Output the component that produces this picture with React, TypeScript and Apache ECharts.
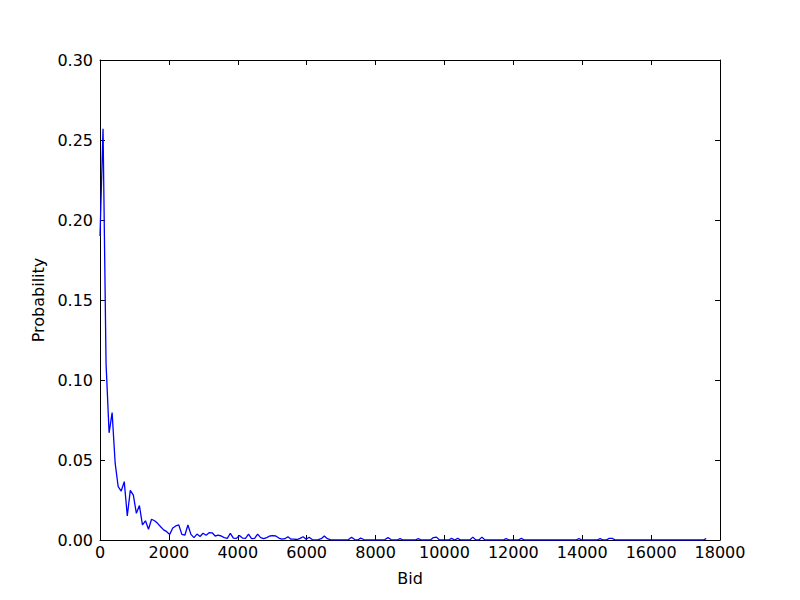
import React, { useEffect, useRef } from "react";
import * as echarts from "echarts";

const binWidth = 88;
const probability: number[] = [
  0.19, 0.257, 0.11, 0.067, 0.0796, 0.048, 0.0333, 0.0306, 0.0365, 0.015,
  0.031, 0.028, 0.0167, 0.0215, 0.0094, 0.012, 0.0067, 0.013, 0.012, 0.0104,
  0.0083, 0.0063, 0.0052, 0.0035, 0.0075, 0.0088, 0.0094, 0.0035, 0.003, 0.0094,
  0.0035, 0.0015, 0.0037, 0.0022, 0.0042, 0.003, 0.0046, 0.0045, 0.0025, 0.003,
  0.0025, 0.0015, 0.001, 0.0042, 0.0012, 0.001, 0.0028, 0.0012, 0.001, 0.0037,
  0.0008, 0.001, 0.0037, 0.0015, 0.0008, 0.0015, 0.0025, 0.0028, 0.0025, 0.0012,
  0.0005, 0.0008, 0.002, 0.0005, 0.0005, 0.0003, 0.001, 0.002, 0.0005, 0.0017,
  0.0003, 0, 0.0003, 0.0008, 0.0025, 0.0008, 0.0003, 0, 0, 0,
  0, 0, 0.0003, 0.0017, 0.0003, 0, 0.0012, 0.0003, 0, 0,
  0, 0, 0, 0, 0.0003, 0.0015, 0.0003, 0, 0, 0.0008,
  0, 0, 0, 0, 0, 0.0008, 0, 0, 0, 0,
  0.0015, 0.0018, 0, 0, 0, 0, 0.001, 0, 0.001, 0,
  0, 0, 0, 0.0018, 0, 0, 0.0018, 0, 0, 0,
  0, 0, 0, 0, 0.0008, 0, 0, 0, 0, 0.001,
  0, 0, 0, 0, 0, 0, 0, 0, 0, 0,
  0, 0, 0, 0, 0, 0, 0, 0, 0.0008, 0,
  0, 0, 0, 0, 0, 0.0008, 0, 0, 0.001, 0.001,
  0, 0, 0, 0, 0, 0, 0, 0, 0, 0,
  0, 0, 0, 0, 0, 0, 0, 0, 0, 0,
  0, 0, 0, 0, 0, 0, 0, 0, 0, 0,
  0.0008,
];

const xTicks = { min: 0, max: 18000, interval: 2000 };
const yTicks = { min: 0, max: 0.3, interval: 0.05 };

export default function App() {
  const ref = useRef<HTMLDivElement>(null);
  useEffect(() => {
    if (!ref.current) return;
    const chart = echarts.init(ref.current, null, { renderer: "svg" });
    const font = "DejaVu Sans";
    const fs = 16;
    const line = { show: true, onZero: false, lineStyle: { color: "#000", width: 1 } };
    const tick = { show: true, inside: true, length: 5, lineStyle: { color: "#000", width: 1 } };
    const data = probability.map((v, i) => [i * binWidth, v]);
    chart.setOption({
      animation: false,
      backgroundColor: "#fff",
      grid: { left: 100, right: 80, top: 60, bottom: 60 },
      xAxis: [
        {
          type: "value",
          ...xTicks,
          position: "bottom",
          axisLine: line,
          axisTick: tick,
          splitLine: { show: false },
          axisLabel: {
            color: "#000",
            fontFamily: font,
            fontSize: fs,
            margin: 4,
            formatter: (v: number) => String(v),
          },
          name: "Bid",
          nameLocation: "middle",
          nameGap: 30,
          nameTextStyle: { color: "#000", fontFamily: font, fontSize: fs },
        },
        {
          type: "value",
          ...xTicks,
          position: "top",
          axisLine: line,
          axisTick: tick,
          splitLine: { show: false },
          axisLabel: { show: false },
        },
      ],
      yAxis: [
        {
          type: "value",
          ...yTicks,
          position: "left",
          axisLine: line,
          axisTick: tick,
          splitLine: { show: false },
          axisLabel: {
            color: "#000",
            fontFamily: font,
            fontSize: fs,
            margin: 7,
            formatter: (v: number) => v.toFixed(2),
          },
          name: "Probability",
          nameLocation: "middle",
          nameGap: 47,
          nameTextStyle: { color: "#000", fontFamily: font, fontSize: fs },
        },
        {
          type: "value",
          ...yTicks,
          position: "right",
          axisLine: line,
          axisTick: tick,
          splitLine: { show: false },
          axisLabel: { show: false },
        },
      ],
      series: [
        {
          type: "line",
          data,
          xAxisIndex: 0,
          yAxisIndex: 0,
          showSymbol: false,
          lineStyle: { color: "#0000ff", width: 1.3 },
          itemStyle: { color: "#0000ff" },
        },
      ],
    });
    return () => chart.dispose();
  }, []);
  return (
    <div
      ref={ref}
      style={{ position: "fixed", left: 0, top: 0, width: 800, height: 600 }}
    />
  );
}
